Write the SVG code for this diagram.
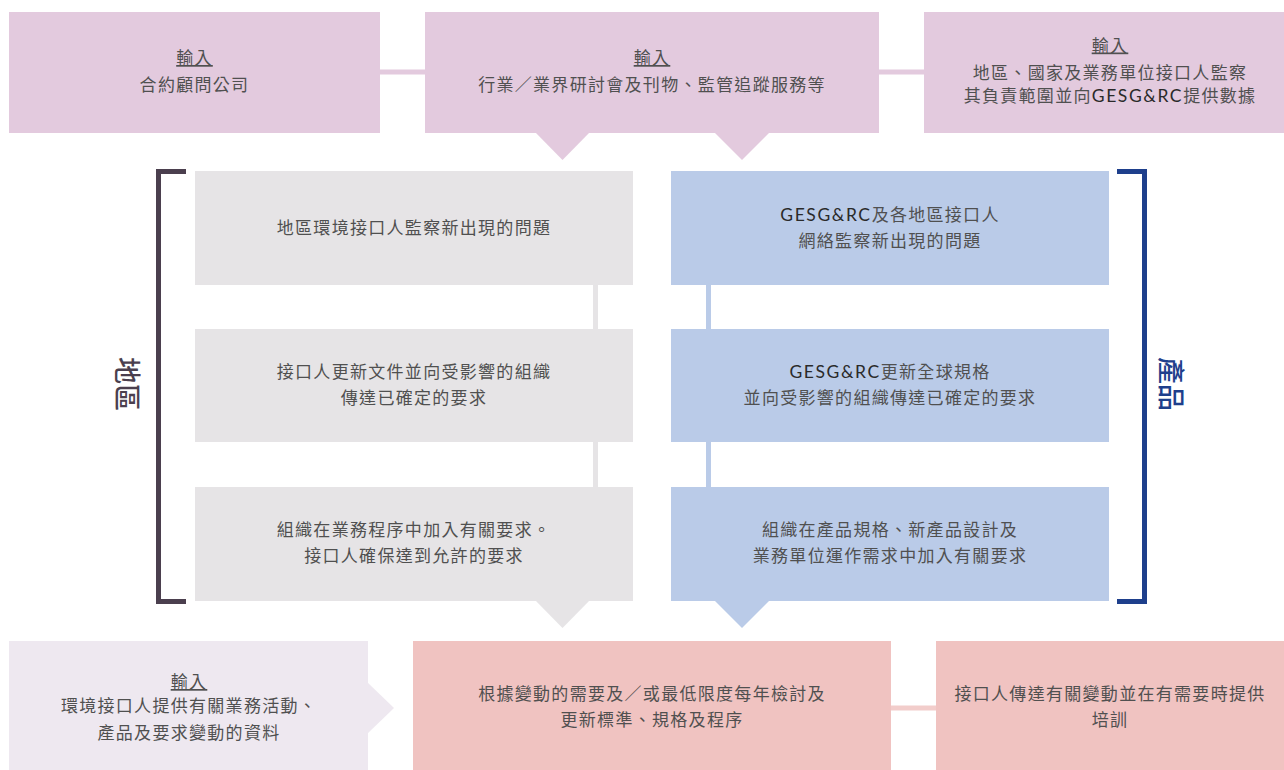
<svg xmlns="http://www.w3.org/2000/svg" width="1284" height="770" viewBox="0 0 1284 770">
<style>
.t{font-family:"Noto Sans CJK TC","Noto Sans CJK SC",sans-serif;font-size:17px;letter-spacing:1.3px;fill:#505050;text-anchor:middle}
.u{text-decoration:underline}
.g{font-family:"Lato","Noto Sans CJK TC",sans-serif;font-size:17.5px;fill:#2a2a2a;letter-spacing:1.6px}
.pink{fill:#e3cade}
.grey{fill:#e6e4e6}
.blue{fill:#bacbe8}
.lav{fill:#eee8f0}
.rose{fill:#f0c3c1}
.lbl{font-family:"Noto Sans CJK TC","Noto Sans CJK SC",sans-serif;font-size:27px;font-weight:500;text-anchor:middle}
</style>
<rect width="1284" height="770" fill="#ffffff"/>
<g id="connectors" fill="none" stroke-width="5">
<line x1="380" y1="72" x2="425" y2="72" stroke="#e3cade"/>
<line x1="879" y1="72" x2="924" y2="72" stroke="#e3cade"/>
<line x1="595.5" y1="285" x2="595.5" y2="329" stroke="#e6e4e6"/>
<line x1="595.5" y1="442" x2="595.5" y2="487" stroke="#e6e4e6"/>
<line x1="708.5" y1="285" x2="708.5" y2="329" stroke="#bacbe8"/>
<line x1="708.5" y1="442" x2="708.5" y2="487" stroke="#bacbe8"/>
<line x1="891" y1="708" x2="936" y2="708" stroke="#f2cdcb"/>
<polygon class="pink" stroke="none" points="535,132 590,132 562.5,160"/>
<polygon class="pink" stroke="none" points="714,132 770,132 742,160"/>
<polygon class="grey" stroke="none" points="535,600 590,600 562.5,628"/>
<polygon class="blue" stroke="none" points="714,600 770,600 742,628"/>
<polygon class="lav" stroke="none" points="367,682 394,708 367,734"/>
</g>
<g id="input-consultants">
<rect class="pink" x="9" y="12" width="371" height="121"/>
<text class="t" x="194.5" y="64"><tspan class="u">輸入</tspan></text>
<text class="t" x="194.5" y="90.5">合約顧問公司</text>
</g>
<g id="input-industry">
<rect class="pink" x="425" y="12" width="454" height="121"/>
<text class="t" x="652" y="64"><tspan class="u">輸入</tspan></text>
<text class="t" x="652" y="90.5">行業／業界研討會及刊物、監管追蹤服務等</text>
</g>
<g id="input-regional">
<rect class="pink" x="924" y="12" width="360" height="121"/>
<text class="t" x="1110" y="51.5"><tspan class="u">輸入</tspan></text>
<text class="t" x="1110" y="79">地區、國家及業務單位接口人監察</text>
<text class="t" x="1110" y="102">其負責範圍並向<tspan class="g">GESG&amp;RC</tspan>提供數據</text>
</g>
<g id="region-bracket">
<path d="M186 171.5 H158.5 V601.5 H186" fill="none" stroke="#4b3f4e" stroke-width="5"/>
<text class="lbl" fill="#4b3f4e" transform="translate(127,384) rotate(90)" x="0" y="10">地區</text>
</g>
<g id="product-bracket">
<path d="M1117 171.5 H1144.5 V601.5 H1117" fill="none" stroke="#1e3f8c" stroke-width="5"/>
<text class="lbl" fill="#1e3f8c" transform="translate(1171,384) rotate(90)" x="0" y="10">產品</text>
</g>
<g id="region-monitor">
<rect class="grey" x="195" y="171" width="438" height="114"/>
<text class="t" x="414" y="233.5">地區環境接口人監察新出現的問題</text>
</g>
<g id="region-update">
<rect class="grey" x="195" y="329" width="438" height="113"/>
<text class="t" x="414" y="377.5">接口人更新文件並向受影響的組織</text>
<text class="t" x="414" y="403.5">傳達已確定的要求</text>
</g>
<g id="region-implement">
<rect class="grey" x="195" y="487" width="438" height="114"/>
<text class="t" x="414" y="535.5">組織在業務程序中加入有關要求。</text>
<text class="t" x="414" y="561.5">接口人確保達到允許的要求</text>
</g>
<g id="product-monitor">
<rect class="blue" x="671" y="171" width="438" height="114"/>
<text class="t" x="890" y="220.5"><tspan class="g">GESG&amp;RC</tspan>及各地區接口人</text>
<text class="t" x="890" y="246.5">網絡監察新出現的問題</text>
</g>
<g id="product-update">
<rect class="blue" x="671" y="329" width="438" height="113"/>
<text class="t" x="890" y="377.5"><tspan class="g">GESG&amp;RC</tspan>更新全球規格</text>
<text class="t" x="890" y="403.5">並向受影響的組織傳達已確定的要求</text>
</g>
<g id="product-implement">
<rect class="blue" x="671" y="487" width="438" height="114"/>
<text class="t" x="890" y="535.5">組織在產品規格、新產品設計及</text>
<text class="t" x="890" y="561.5">業務單位運作需求中加入有關要求</text>
</g>
<g id="input-env">
<rect class="lav" x="9" y="641" width="359" height="129"/>
<text class="t" x="189" y="688"><tspan class="u">輸入</tspan></text>
<text class="t" x="189" y="712">環境接口人提供有關業務活動、</text>
<text class="t" x="189" y="738.5">產品及要求變動的資料</text>
</g>
<g id="review">
<rect class="rose" x="413" y="641" width="478" height="129"/>
<text class="t" x="652" y="699.5">根據變動的需要及／或最低限度每年檢討及</text>
<text class="t" x="652" y="725.5">更新標準、規格及程序</text>
</g>
<g id="communicate">
<rect class="rose" x="936" y="641" width="348" height="129"/>
<text class="t" x="1110" y="699.5">接口人傳達有關變動並在有需要時提供</text>
<text class="t" x="1110" y="725.5">培訓</text>
</g>
</svg>
